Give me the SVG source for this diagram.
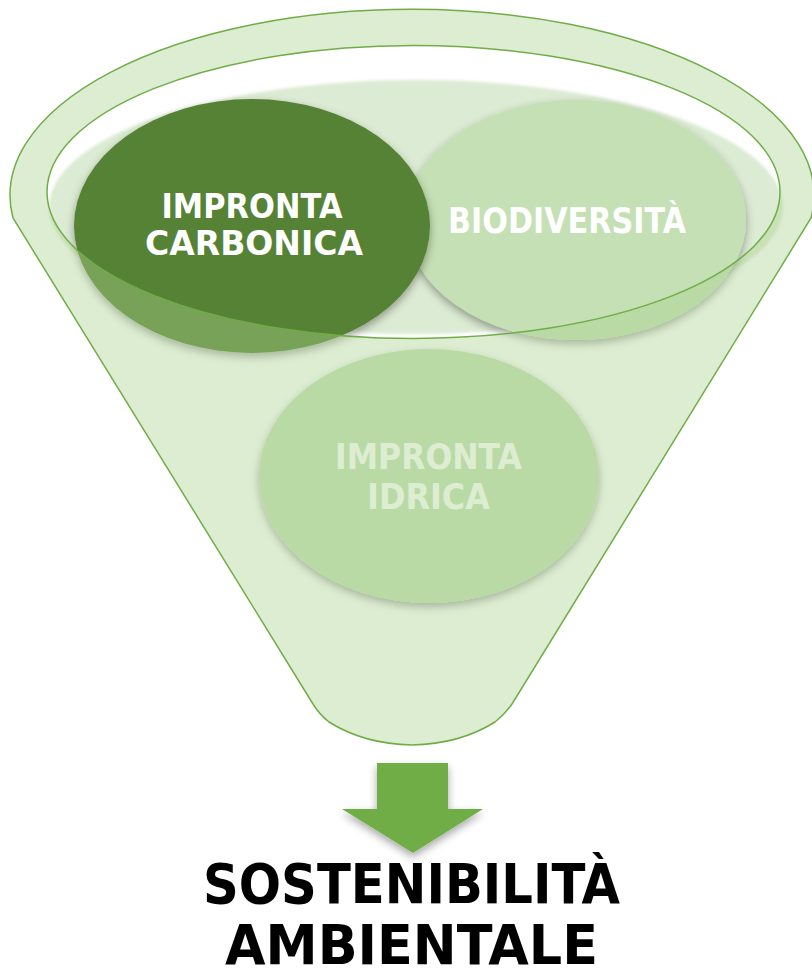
<svg xmlns="http://www.w3.org/2000/svg" width="812" height="972" viewBox="0 0 812 972">
<defs>
<style>
.lbl{font-family:"DejaVu Sans","Liberation Sans",sans-serif;font-weight:bold;fill:#ffffff;text-anchor:middle}
.big{font-family:"DejaVu Sans","Liberation Sans",sans-serif;font-weight:bold;fill:#000000;text-anchor:middle;font-size:56px}
.edge{fill:none;stroke:#70ad47;stroke-width:1.5}
</style>
<filter id="sh" x="-20%" y="-20%" width="140%" height="150%">
<feDropShadow dx="0" dy="4" stdDeviation="4" flood-color="#000" flood-opacity="0.35"/>
</filter>
<filter id="soft" x="-5%" y="-10%" width="110%" height="120%">
<feGaussianBlur stdDeviation="1.5"/>
</filter>
</defs>
<rect width="812" height="972" fill="#ffffff"/>
<g id="liquid">
<ellipse cx="416" cy="207" rx="367" ry="127" fill="#dcebd3" filter="url(#soft)"/>
</g>
<g id="node-biodiversita">
<ellipse cx="576" cy="220" rx="170" ry="120" fill="#c5e0b4" filter="url(#sh)"/>
<text class="lbl" x="567" y="233" font-size="35" textLength="238" lengthAdjust="spacingAndGlyphs">BIODIVERSITÀ</text>
</g>
<g id="node-carbonica">
<ellipse cx="252" cy="226" rx="178" ry="127" fill="#548235" filter="url(#sh)"/>
<text class="lbl" x="252" y="218" font-size="34" textLength="181" lengthAdjust="spacingAndGlyphs">IMPRONTA</text>
<text class="lbl" x="254" y="255" font-size="34" textLength="218" lengthAdjust="spacingAndGlyphs">CARBONICA</text>
</g>
<g id="node-idrica">
<ellipse cx="429" cy="476" rx="170" ry="127" fill="#c5e0b4" filter="url(#sh)"/>
<text class="lbl" x="428.5" y="469" font-size="36" textLength="187" lengthAdjust="spacingAndGlyphs">IMPRONTA</text>
<text class="lbl" x="428.5" y="509" font-size="36" textLength="123" lengthAdjust="spacingAndGlyphs">IDRICA</text>
</g>
<g id="funnel">
<path d="M 13 218 A 402 186 0 1 1 811 218 L 512 704 Q 505 714 495 722 Q 460 744 412 745 Q 364 744 329 722 Q 319 714 313 704 Z M 47 192 A 366.5 146.5 0 1 0 780 192 A 366.5 146.5 0 1 0 47 192 Z" fill="#a9d18e" fill-opacity="0.4" fill-rule="evenodd"/>
<path class="edge" d="M 13 218 A 402 186 0 1 1 811 218 L 512 704 Q 505 714 495 722 Q 460 744 412 745 Q 364 744 329 722 Q 319 714 313 704 Z"/>
<ellipse class="edge" cx="413.5" cy="192" rx="366.5" ry="146.5"/>
</g>
<g id="connectors">
<path d="M 377 763 H 448 V 809 H 483 L 413 853 L 342 809 H 377 Z" fill="#70ad47" filter="url(#sh)"/>
</g>
<g id="node-result">
<text class="big" x="411.5" y="903" textLength="417" lengthAdjust="spacingAndGlyphs">SOSTENIBILITÀ</text>
<text class="big" x="411.5" y="964" textLength="373" lengthAdjust="spacingAndGlyphs">AMBIENTALE</text>
</g>
</svg>
